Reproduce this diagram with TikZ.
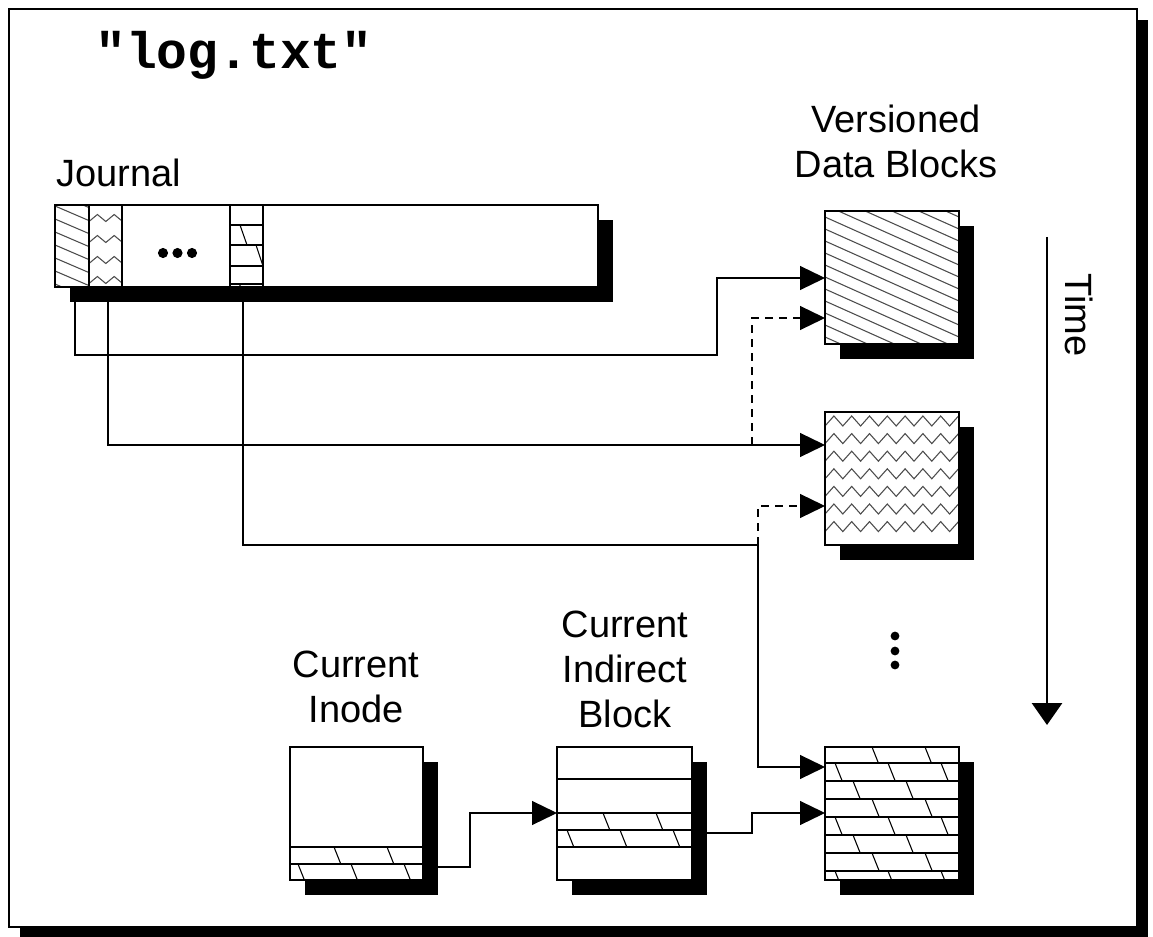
\documentclass[tikz,border=0pt]{standalone}
\usepackage{fontspec}
\setmainfont{Liberation Sans}
\newfontfamily\monofam{Liberation Mono}
\usetikzlibrary{arrows.meta,shadows}
\tikzset{
  sz/.style 2 args={minimum width=#1*0.75pt, minimum height=#2*0.75pt},
  blk/.style={draw=black, line width=1.1pt, fill=white, inner sep=0pt, anchor=north west,
    drop shadow={shadow xshift=10.5pt, shadow yshift=-10.5pt, fill=black, opacity=1}},
  conn/.style={line width=0.9pt, -{Triangle[length=18.75pt,width=18pt]}},
  dconn/.style={conn, dash pattern=on 6pt off 4.5pt},
  hat/.style={line width=0.8pt, draw=black!70},
  brk/.style={line width=0.8pt, draw=black},
  lbl/.style={font=\fontsize{28.5}{33.75}\selectfont, align=center, inner sep=0pt},
}
\newcommand{\brickrow}[5]{% left right top bottom offset
  \draw[brk] (#1,#4) -- (#2,#4);
  \foreach \k in {0,1,2} {
    \pgfmathsetmacro{\xs}{#1+#5+53*\k}
    \pgfmathparse{\xs<#2 ? 1 : 0}
    \ifnum\pgfmathresult=1
      \draw[brk] (\xs,#3) -- ({\xs+0.4*(#4-#3)},#4);
    \fi
  }
}
\begin{document}
\begin{tikzpicture}[x=0.75pt,y=-0.75pt]
\useasboundingbox (0,0) rectangle (1153,937);
% frame
\node[draw=black, line width=1.4pt, fill=white, inner sep=0pt, anchor=north west, sz={1128}{918},
  drop shadow={shadow xshift=8.25pt, shadow yshift=-8.25pt, fill=black, opacity=1}] (frame) at (8,8) {};
% title
\node[font=\monofam\bfseries\fontsize{38.5}{40}\selectfont, anchor=base west, inner sep=0pt] (title) at (95,69) {"log.txt"};
% labels (base anchor = baseline of last line)
\node[lbl, anchor=base west] (jl) at (56,187) {Journal};
\node[lbl, anchor=base] (vl) at (896,178) {Versioned\\Data Blocks};
\node[lbl, anchor=base] (il) at (356,722) {Current\\Inode};
\node[lbl, anchor=base] (dl) at (625,727) {Current\\Indirect\\Block};
\node[lbl, anchor=center, rotate=-90] (tl) at (1079,315) {Time};

% journal
\node[blk, sz={543}{82}] (jr) at (55,205) {};
\begin{scope}
  \clip (55,205) rectangle (89,287);
  \foreach \c in {180,193,...,300} \draw[hat] (55,\c) -- (89,{\c+14.6});
\end{scope}
\foreach \yr in {218,239,260,280}
  \draw[hat] (89,\yr+3.5) \foreach \k in {1,...,4} { -- ({89+8.4*\k},{\yr+3.5-7*mod(\k,2)}) };
\draw[brk] (89,205) -- (89,287) (122,205) -- (122,287) (230,205) -- (230,287) (263,205) -- (263,287);
\draw[brk] (230,225) -- (263,225) (230,245) -- (263,245) (230,266) -- (263,266) (230,284) -- (263,284);
\draw[brk] (240,225) -- (247,245) (256,245) -- (263,266) (240,284) -- (240,287);
\draw[line width=1.1pt] (55,205) rectangle (598,287);
\fill (163,253) circle (3.8pt) (177.5,253) circle (3.8pt) (192,253) circle (3.8pt);

% versioned blocks
\node[blk, sz={134}{133}] (b1) at (825,211) {};
\begin{scope}
  \clip (825,211) rectangle (959,344);
  \foreach \c in {145,157,...,350} \draw[hat] (825,\c) -- (959,{\c+60});
\end{scope}
\draw[line width=1.1pt] (825,211) rectangle (959,344);

\node[blk, sz={134}{133}] (b2) at (825,412) {};
\foreach \yr in {421,438.6,456.2,473.8,491.4,509,526.6}
  \draw[hat] (825,\yr+5) \foreach \k in {1,...,15} { -- ({825+8.9*\k},{\yr+5-10*mod(\k,2)}) };
\draw[line width=1.1pt] (825,412) rectangle (959,545);

\node[blk, sz={134}{133}] (b4) at (825,747) {};
\brickrow{825}{959}{747}{763}{47}
\brickrow{825}{959}{763}{781}{10}
\brickrow{825}{959}{781}{799}{28}
\brickrow{825}{959}{799}{817}{47}
\brickrow{825}{959}{817}{835}{10}
\brickrow{825}{959}{835}{853}{28}
\brickrow{825}{959}{853}{871}{47}
\brickrow{825}{959}{871}{880}{10}
\draw[line width=1.1pt] (825,747) rectangle (959,880);

\fill (895,636) circle (3.3pt) (895,651) circle (3.3pt) (895,665) circle (3.3pt);

% inode
\node[blk, sz={133}{133}] (in) at (290,747) {};
\draw[brk] (290,847) -- (423,847);
\brickrow{290}{423}{847}{864}{44}
\brickrow{290}{423}{864}{880}{8}
\draw[line width=1.1pt] (290,747) rectangle (423,880);

% indirect block
\node[blk, sz={135}{133}] (ib) at (557,747) {};
\draw[brk] (557,779) -- (692,779) (557,813) -- (692,813);
\brickrow{557}{692}{813}{830}{46}
\brickrow{557}{692}{830}{847}{10}
\draw[line width=1.1pt] (557,747) rectangle (692,880);

% connectors
\coordinate (j1) at (75,287);
\coordinate (j2) at (108,287);
\coordinate (j3) at (243,287);
\coordinate (s1) at (752,445);
\coordinate (s2) at (758,545);
\draw[conn] (j1) -- (75,355) -- (717,355) -- (717,278) -- (b1.west |- 0,278);
\draw[conn] (j2) -- (108,445) -- (b2.west |- 0,445);
\draw[dconn] (s1) -- (752,318) -- (b1.west |- 0,318);
\draw[conn] (j3) -- (243,545) -- (758,545) -- (758,767) -- (b4.west |- 0,767);
\draw[dconn] (s2) -- (758,506) -- (b2.west |- 0,506);
\draw[conn] (in.east |- 0,867) -- (470,867) -- (470,813) -- (ib.west |- 0,813);
\draw[conn] (ib.east |- 0,833) -- (752,833) -- (752,813) -- (b4.west |- 0,813);

% time arrow
\coordinate (t0) at (1047,237);
\coordinate (t1) at (1047,725);
\draw[line width=2.2pt, -{Triangle[length=16.5pt,width=22.5pt]}] (t0) -- (t1);
\end{tikzpicture}
\end{document}
